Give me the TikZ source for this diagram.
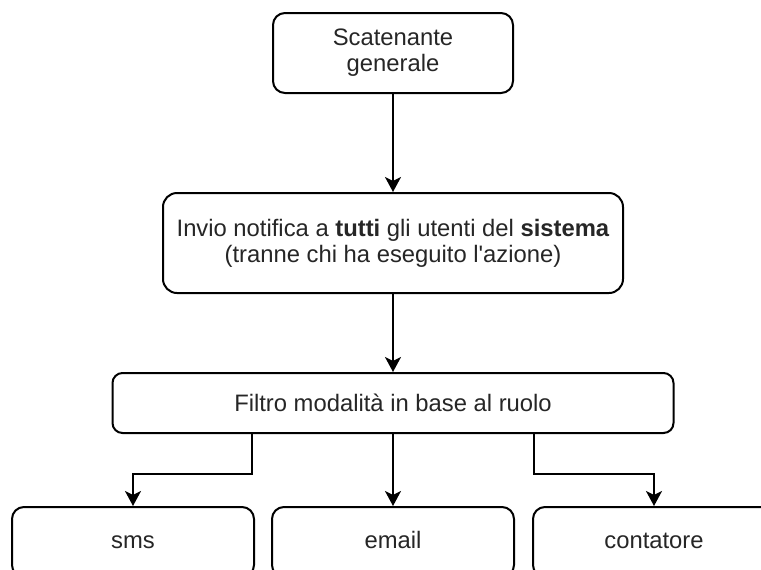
\documentclass[tikz,border=0pt]{standalone}
\usepackage{fontspec}
\setmainfont{Liberation Sans}[Ligatures=TeXOff]
\usepackage{tikz}
\usetikzlibrary{arrows.meta,calc}

\begin{document}
\begin{tikzpicture}[
    x=0.5pt, y=-0.5pt,
    stepbox/.style={
        draw=black,
        fill=white,
        line width=1pt,
        rounded corners=6pt,
        align=center,
        text=black!85,
        font=\fontsize{11.9}{13}\selectfont,
        inner sep=2pt,
    },
    leafbox/.style={
        stepbox,
        minimum width=121pt,
        minimum height=35pt,
        text height=8.6pt,
        text depth=2.4pt,
    },
    flowarrow/.style={
        -{Stealth[length=7.5pt,width=8pt,inset=2pt]},
        line width=1pt,
        color=black,
    },
]
\useasboundingbox (0,0) rectangle (761,569);

\node[stepbox,minimum width=120pt,minimum height=40pt] (trigger) at (393,53) {%
    Scatenante\\generale};

\node[stepbox,minimum width=230pt,minimum height=50pt,rounded corners=7pt] (notify) at (393,243) {%
    Invio notifica a \textbf{tutti} gli utenti del \textbf{sistema}\\
    (tranne chi ha eseguito l'azione)};

\node[stepbox,minimum width=280.5pt,minimum height=30pt,rounded corners=5pt] (filter) at (393,403) {%
    Filtro modalità in base al ruolo};

\node[leafbox] (sms) at (133,542) {sms};
\node[leafbox] (email) at (393,542) {email};
\node[leafbox] (counter) at (654,542) {contatore};

\coordinate (filterL) at ($(filter.south west)!0.25!(filter.south east)$);
\coordinate (filterR) at ($(filter.south west)!0.75!(filter.south east)$);

\draw[flowarrow] (trigger) -- (notify);
\draw[flowarrow] (notify) -- (filter);
\draw[flowarrow] (filterL) -- ++(0,40) -| (sms.north);
\draw[flowarrow] (filter) -- (email);
\draw[flowarrow] (filterR) -- ++(0,40) -| (counter.north);
\end{tikzpicture}
\end{document}
